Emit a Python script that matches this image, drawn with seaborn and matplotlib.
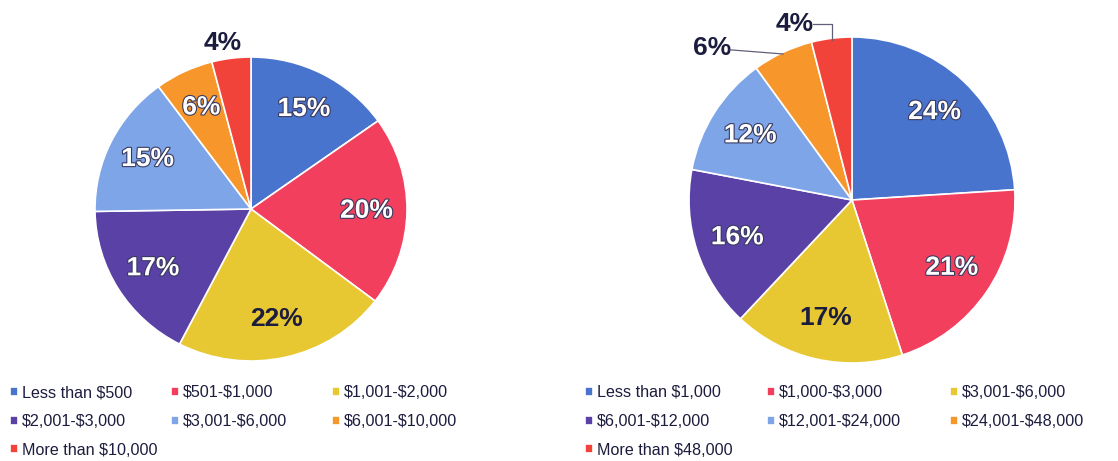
import numpy as np
import seaborn as sns
import matplotlib
matplotlib.use("Agg")
import matplotlib.pyplot as plt
import matplotlib.patheffects as pe

sns.set_style("white")
plt.rcParams["font.family"] = ["Liberation Sans", "DejaVu Sans"]
plt.rcParams["text.parse_math"] = False

# data
left_categories = ["Less than $500", "$501-$1,000", "$1,001-$2,000", "$2,001-$3,000",
                   "$3,001-$6,000", "$6,001-$10,000", "More than $10,000"]
left_values = [15, 20, 22, 17, 15, 6, 4]

right_categories = ["Less than $1,000", "$1,000-$3,000", "$3,001-$6,000", "$6,001-$12,000",
                    "$12,001-$24,000", "$24,001-$48,000", "More than $48,000"]
right_values = [24, 21, 17, 16, 12, 6, 4]

pie_colors = ["#4874CE", "#F23F5E", "#E8C832", "#5A41A6", "#7EA5E7", "#F7962B", "#F2433A"]
DARK = "#1c1c3e"

W, H = 1118, 461
fig = plt.figure(figsize=(W / 100, H / 100), dpi=100)


def px_axes(left, top, right, bottom):
    return fig.add_axes([left / W, 1 - bottom / H, (right - left) / W, (bottom - top) / H])


def draw_pie(ax, values, dark_idx, outside):
    labels = [f"{v}%" for v in values]
    wedges, texts = ax.pie(values, colors=pie_colors, startangle=90, counterclock=False,
                           labels=labels, labeldistance=0.74,
                           wedgeprops=dict(edgecolor="white", linewidth=1.2),
                           textprops=dict(fontsize=19, fontweight="bold"))
    for i, t in enumerate(texts):
        t.set_ha("center")
        t.set_va("center")
        if i in dark_idx:
            t.set_color(DARK)
        else:
            t.set_color("white")
            t.set_path_effects([pe.withStroke(linewidth=1.6, foreground="#3a3a60")])
        if i in outside:
            x, y, line = outside[i]
            t.set_position((x, y))
            if line is not None:
                w = wedges[i]
                ang = np.deg2rad((w.theta1 + w.theta2) / 2)
                ax.annotate("", xy=(np.cos(ang) * 0.99, np.sin(ang) * 0.99), xytext=(x, y),
                            arrowprops=dict(arrowstyle="-", color="#606078", lw=0.9,
                                            shrinkA=13, shrinkB=0, connectionstyle=line))
    ax.set_aspect("auto")
    ax.set_xlim(-1, 1)
    ax.set_ylim(-1, 1)
    ax.axis("off")
    return wedges


def draw_legend(wedges, cats, xs, top):
    cols = [[0, 3, 6], [1, 4], [2, 5]]
    for col, x in zip(cols, xs):
        fig.legend([wedges[i] for i in col], [cats[i] for i in col],
                   loc="upper left", bbox_to_anchor=(x / W, 1 - top / H),
                   frameon=False, fontsize=11.6, labelcolor=DARK,
                   handlelength=0.48, handleheight=0.48, handletextpad=0.28,
                   labelspacing=0.86, borderpad=0, borderaxespad=0)


ax1 = px_axes(95, 57, 407, 361)
w1 = draw_pie(ax1, left_values, dark_idx={2, 6},
              outside={6: (-0.18, 1.09, None)})
draw_legend(w1, left_categories, [10, 171, 332], 385)

ax2 = px_axes(689, 37, 1015, 363)
w2 = draw_pie(ax2, right_values, dark_idx={2, 5, 6},
              outside={5: (-0.86, 0.93, "arc3"),
                       6: (-0.35, 1.08, "angle,angleA=0,angleB=90,rad=0")})
draw_legend(w2, right_categories, [585, 767, 950], 385)

fig.savefig("out.png", dpi=100)
